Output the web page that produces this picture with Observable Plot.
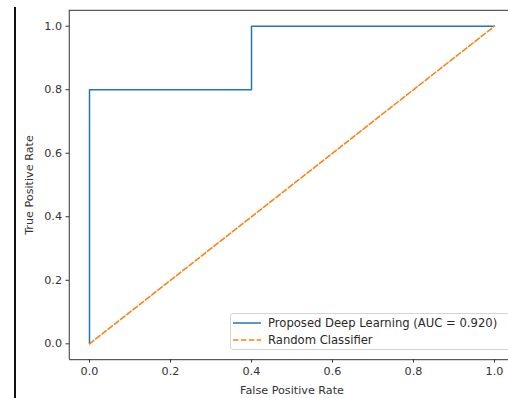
<!DOCTYPE html>
<html>
<head>
<meta charset="utf-8">
<script src="https://cdn.jsdelivr.net/npm/d3@7"></script>
<script src="https://cdn.jsdelivr.net/npm/@observablehq/plot@0.6"></script>
<style>
  html, body { margin: 0; padding: 0; background: #fff; overflow: hidden; }
  #wrap { position: relative; width: 508px; height: 398px; font-family: "DejaVu Sans", sans-serif; }
  #wrap svg { overflow: hidden; }
  #edge { position: absolute; left: 14px; top: 7px; width: 1.5px; bottom: 0; background: #111; }
  #legend { position: absolute; left: 230px; top: 313px; width: 290px; height: 37px;
    border: 1px solid #d6d6d6; border-radius: 3px; background: rgba(255,255,255,0.85);
    font-size: 11.6px; color: #2a2a2a; box-sizing: border-box; }
  #legend .row { position: absolute; left: 0; height: 14px; display: flex; align-items: center; }
  #legend .row span { margin-left: 7px; white-space: nowrap; }
</style>
</head>
<body>
<div id="wrap"></div>
<script>
// Data
const fpr = [0.0, 0.0, 0.4, 0.4, 1.0];
const tpr = [0.0, 0.8, 0.8, 1.0, 1.0];
const diagX = [0.0, 1.0];
const diagY = [0.0, 1.0];
const ticks = [0.0, 0.2, 0.4, 0.6, 0.8, 1.0];
const seriesNames = ["Proposed Deep Learning (AUC = 0.920)", "Random Classifier"];
const seriesColors = ["#1f77b4", "#ff7f0e"];
const xLabel = "False Positive Rate";
const yLabel = "True Positive Rate";

const roc = fpr.map((x, i) => ({x, y: tpr[i]}));
const diag = diagX.map((x, i) => ({x, y: diagY[i]}));
const dom = [-0.05, 1.05];

const plot = Plot.plot({
  width: 508,
  height: 398,
  marginLeft: 69,
  marginRight: 0,
  marginTop: 10,
  marginBottom: 39,
  style: {fontFamily: "DejaVu Sans, sans-serif", fontSize: "11.2px", color: "#333", background: "#fff"},
  x: {domain: dom, range: [68.75, 514.25]},
  y: {domain: dom, range: [359.2, 9.8]},
  marks: [
    Plot.ruleX([dom[0]], {stroke: "#333", strokeWidth: 1}),
    Plot.ruleY([dom[0]], {stroke: "#333", strokeWidth: 1}),
    Plot.ruleY([dom[1]], {stroke: "#333", strokeWidth: 1}),
    Plot.ruleX([dom[1]], {stroke: "#333", strokeWidth: 1}),
    Plot.axisX(ticks, {tickSize: 3.5, tickPadding: 4, tickFormat: d3.format(".1f"), label: null, fontSize: 11.2, fill: "#333", stroke: "#333"}),
    Plot.axisY(ticks, {tickSize: 3.5, tickPadding: 4, tickFormat: d3.format(".1f"), label: null, fontSize: 11.2, fill: "#333", stroke: "#333"}),
    Plot.line(roc, {x: "x", y: "y", stroke: seriesColors[0], strokeWidth: 1.5}),
    Plot.line(diag, {x: "x", y: "y", stroke: seriesColors[1], strokeWidth: 1.5, strokeDasharray: "5.5,2.4"}),
    Plot.text([xLabel], {text: d => d, frameAnchor: "bottom", textAnchor: "middle", dx: 3, dy: 34, fontSize: 11.2, fill: "#333"}),
    Plot.text([yLabel], {text: d => d, frameAnchor: "left", textAnchor: "middle", dx: -40, rotate: -90, fontSize: 11.2, fill: "#333"})
  ]
});

const wrap = document.getElementById("wrap");
wrap.appendChild(plot);

const edge = document.createElement("div");
edge.id = "edge";
wrap.appendChild(edge);

const legend = document.createElement("div");
legend.id = "legend";
seriesNames.forEach((name, i) => {
  const row = document.createElement("div");
  row.className = "row";
  row.style.top = (2 + i * 17) + "px";
  row.style.left = "2px";
  const dash = i === 1 ? 'stroke-dasharray="5.5,2.4"' : "";
  row.innerHTML = `<svg width="28" height="6"><line x1="0" y1="3" x2="28" y2="3" stroke="${seriesColors[i]}" stroke-width="1.5" ${dash}/></svg><span>${name}</span>`;
  legend.appendChild(row);
});
wrap.appendChild(legend);
</script>
</body>
</html>
